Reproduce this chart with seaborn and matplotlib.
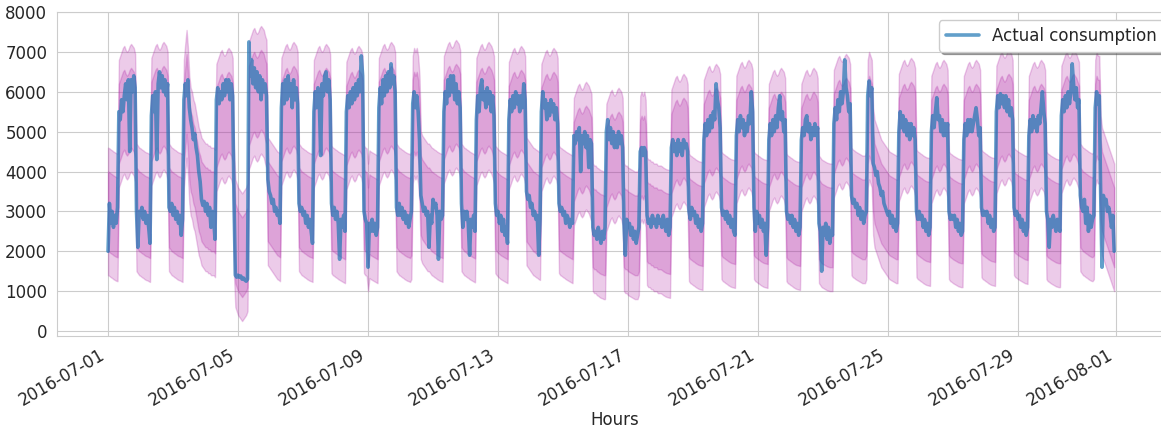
import matplotlib
matplotlib.use("Agg")
import matplotlib.pyplot as plt
import matplotlib.dates as mdates
import numpy as np
import pandas as pd
import seaborn as sns

# Hourly actual consumption, July 2016 (one row per day, hours 0-23)
actual = [
    2000, 3200, 2700, 3000, 2600, 2900, 2700, 3100, 5500, 5300, 5800, 5500, 5900, 6200, 5800, 6300, 4500, 6300, 6000, 6400, 6100, 3000, 2100, 3000,
    2900, 3100, 2800, 3000, 2700, 2900, 2600, 2200, 5400, 5900, 5500, 6000, 4300, 6200, 6500, 6100, 6400, 6000, 6300, 5900, 6200, 3100, 3000, 3200,
    2900, 3100, 2800, 3000, 2700, 2900, 2400, 2800, 5800, 6200, 5900, 6300, 5600, 5300, 5100, 4800, 4950, 4600, 4400, 4000, 3750, 3300, 3150, 3250,
    3000, 3200, 2900, 3100, 2600, 3000, 2800, 2300, 5800, 6100, 5700, 6000, 5800, 6200, 5900, 6300, 6000, 6300, 5800, 6200, 5900, 3300, 1400, 1350,
    1400, 1350, 1380, 1300, 1330, 1280, 1250, 1300, 7250, 6400, 6800, 6200, 6600, 6100, 6500, 6000, 6400, 5800, 6300, 6000, 6200, 5900, 3800, 3500,
    3400, 3200, 3300, 3000, 3100, 2900, 3000, 2700, 5600, 6200, 5700, 6300, 5800, 6400, 5900, 6200, 5600, 6300, 5800, 6100, 5700, 3200, 3000, 3100,
    2900, 3000, 2700, 2900, 2600, 2800, 2500, 2200, 5500, 6000, 5600, 6100, 5800, 4400, 6200, 5900, 6400, 6500, 6000, 6300, 5800, 3200, 2900, 3100,
    2800, 3000, 2700, 1800, 2800, 2600, 2900, 2500, 5500, 5900, 5600, 6000, 5700, 6100, 5800, 6200, 5900, 6300, 6000, 6900, 6400, 3000, 2800, 2700,
    1600, 2700, 2500, 2800, 2500, 2700, 2400, 2600, 5600, 6100, 5700, 6300, 5900, 6400, 6000, 6500, 6100, 6700, 6200, 6400, 6000, 3100, 2900, 3200,
    2900, 3100, 2800, 3000, 2700, 2900, 2600, 2800, 3000, 5700, 6000, 5600, 5900, 5500, 4800, 3400, 3200, 3000, 3100, 2900, 3000, 2100, 2900, 2700,
    3300, 3100, 3200, 2900, 1800, 3000, 2800, 2900, 5500, 6000, 5700, 6300, 5900, 6400, 6000, 6400, 5800, 6200, 5700, 6000, 5600, 3200, 2600, 3000,
    2800, 3000, 2700, 1900, 2800, 2600, 2900, 2500, 5300, 5900, 5500, 6100, 6300, 5800, 6000, 5600, 6100, 5700, 6000, 5500, 5900, 5400, 3200, 2900,
    3000, 2700, 2900, 2500, 2800, 2400, 2600, 2200, 5300, 5800, 5500, 5900, 5600, 6000, 5700, 5900, 5500, 5900, 5600, 6200, 5800, 3500, 3300, 3400,
    3100, 3200, 2900, 3000, 2800, 2900, 1900, 2800, 5500, 6000, 5600, 5800, 5300, 5700, 5400, 5800, 5500, 5700, 5300, 5600, 5200, 3200, 3000, 3100,
    2900, 3000, 2700, 2900, 2800, 2600, 2800, 2700, 4900, 4700, 5000, 4800, 5100, 4000, 4900, 4700, 5000, 4600, 4900, 4100, 4800, 4700, 2600, 2400,
    2500, 2300, 2600, 2400, 2200, 2500, 2300, 2600, 5000, 5300, 4800, 5100, 4700, 5000, 4600, 4900, 4600, 5000, 4700, 4900, 4600, 2700, 1900, 2800,
    2600, 2700, 2400, 2600, 2300, 2500, 2200, 2400, 2600, 4500, 4600, 4400, 4600, 4500, 2900, 2700, 2800, 2600, 2900, 2700, 2800, 2600, 2900, 2700,
    2800, 2600, 2900, 2700, 2500, 2800, 2400, 2600, 4600, 4800, 4500, 4700, 4400, 4800, 4500, 4700, 4400, 4800, 4600, 4700, 4500, 3000, 2800, 3100,
    2900, 3000, 2700, 2900, 2600, 2800, 2500, 2700, 4800, 5200, 4900, 5300, 5000, 5400, 5100, 5500, 5300, 6200, 5800, 5600, 5100, 3100, 2900, 3000,
    2800, 3000, 2700, 2900, 2600, 2800, 2500, 2400, 4900, 5300, 5000, 5400, 5100, 5300, 4900, 5200, 5000, 5400, 5200, 6000, 5500, 3100, 2500, 3000,
    2700, 2900, 2600, 2800, 2500, 2700, 1900, 2600, 4800, 5200, 4900, 5300, 5000, 5400, 5100, 5600, 5900, 5300, 5500, 5000, 5300, 3000, 2800, 2900,
    2700, 2900, 2600, 2800, 2500, 2700, 2400, 2600, 4800, 5100, 4900, 5300, 5400, 5000, 5200, 4800, 5100, 4900, 5200, 4900, 5100, 2700, 2500, 1500,
    2600, 2400, 2700, 2300, 2600, 2200, 2500, 2400, 5200, 5600, 5300, 5800, 5500, 6000, 5700, 6000, 6800, 6100, 5900, 5500, 5700, 3400, 3200, 3300,
    3100, 3200, 2900, 3100, 2800, 3000, 2700, 2900, 3000, 5900, 6270, 5900, 6100, 4200, 4100, 3900, 4000, 3700, 3600, 3400, 3500, 3200, 3100, 3000,
    2900, 3000, 2700, 2900, 2600, 2800, 2500, 2700, 5000, 5500, 5100, 5400, 5000, 5300, 4900, 5200, 4800, 5200, 4900, 5100, 4800, 3000, 2800, 3000,
    2800, 2900, 2600, 2800, 2500, 2700, 2400, 2600, 5000, 5400, 5100, 5500, 5850, 5300, 5400, 5000, 5300, 4900, 5200, 4900, 5200, 3000, 2800, 2900,
    2800, 2900, 2600, 2800, 2500, 2700, 2400, 2500, 4800, 5200, 4900, 5300, 5000, 5300, 5000, 5200, 5400, 5600, 5300, 4900, 5100, 3100, 2900, 3000,
    2900, 3000, 2700, 2900, 2600, 2800, 2500, 2600, 5500, 5900, 5600, 5950, 5700, 5900, 5600, 5900, 5500, 5800, 5400, 5600, 5300, 3100, 2900, 3000,
    2800, 2900, 2600, 2800, 2500, 2700, 2400, 2600, 4900, 5300, 5000, 5400, 5100, 5300, 5000, 5400, 5200, 5600, 6000, 5500, 5200, 3000, 2800, 2100,
    2800, 2600, 2900, 2700, 2500, 2800, 2600, 2500, 5400, 5800, 5500, 5900, 5600, 6000, 5700, 6000, 6700, 6200, 5800, 6100, 5600, 5800, 3400, 3100,
    3000, 3300, 2700, 3100, 2500, 2900, 2600, 2800, 2900, 5600, 6000, 5700, 5900, 3500, 1600, 3400, 3200, 3300, 3000, 3100, 2900, 2600, 2900, 2000,
]

# Hourly point forecast (centre of the prediction intervals)
forecast = [
    3000, 2980, 2950, 2930, 2900, 2880, 2860, 2850, 5200, 5300, 5400, 5500, 5550, 5450, 5400, 5450, 5550, 5600, 5550, 5500, 5350, 3100, 3050, 3000,
    2980, 2950, 2930, 2900, 2880, 2870, 2850, 2830, 5250, 5350, 5450, 5550, 5600, 5500, 5450, 5500, 5600, 5650, 5600, 5550, 5400, 3100, 3050, 3000,
    2980, 2950, 2930, 2900, 2880, 2870, 2850, 2830, 5200, 5600, 5950, 5500, 4800, 4500, 4400, 4200, 4100, 3900, 3700, 3500, 3400, 3250, 3200, 3150,
    3100, 3100, 3050, 3050, 3000, 3000, 3000, 2950, 5100, 5200, 5300, 5400, 5450, 5350, 5300, 5350, 5450, 5500, 5450, 5400, 5250, 3000, 2200, 2100,
    2000, 1950, 1900, 1850, 1900, 1950, 2000, 2100, 5650, 5750, 5850, 5950, 6000, 5900, 5850, 5900, 6000, 6050, 6000, 5950, 5800, 5700, 3250, 3200,
    3150, 3100, 3050, 3000, 2950, 2900, 2880, 2850, 5250, 5350, 5450, 5550, 5600, 5500, 5450, 5500, 5600, 5650, 5600, 5550, 5400, 3100, 3050, 3000,
    2980, 2950, 2930, 2900, 2880, 2860, 2850, 2830, 5200, 5300, 5400, 5500, 5550, 5450, 5400, 5450, 5550, 5600, 5550, 5500, 5350, 3050, 3000, 2980,
    2950, 2930, 2900, 2880, 2860, 2840, 2820, 2800, 5150, 5250, 5350, 5450, 5500, 5400, 5350, 5400, 5500, 5550, 5500, 5450, 5300, 3050, 3000, 2980,
    2600, 2930, 2900, 2880, 2860, 2840, 2820, 2800, 5250, 5350, 5450, 5550, 5600, 5500, 5450, 5500, 5600, 5650, 5600, 5550, 5400, 3100, 3050, 3000,
    2980, 2950, 2930, 2900, 2880, 2860, 2850, 2830, 2900, 5300, 5500, 5400, 5500, 5300, 4800, 3400, 3300, 3250, 3200, 3150, 3100, 3100, 3050, 3000,
    2980, 2950, 2930, 2900, 2880, 2860, 2850, 2830, 5300, 5400, 5500, 5600, 5650, 5550, 5500, 5550, 5650, 5700, 5650, 5600, 5450, 3100, 3050, 3000,
    2980, 2950, 2930, 2900, 2880, 2860, 2840, 2820, 5250, 5350, 5450, 5550, 5600, 5500, 5450, 5500, 5600, 5650, 5600, 5550, 5450, 5300, 3050, 3000,
    2960, 2930, 2900, 2880, 2860, 2840, 2820, 2800, 5150, 5250, 5350, 5450, 5500, 5400, 5350, 5400, 5500, 5550, 5500, 5450, 5300, 3250, 3200, 3150,
    3100, 3050, 3000, 2980, 2950, 2930, 2900, 2880, 5100, 5200, 5300, 5400, 5450, 5350, 5300, 5350, 5450, 5500, 5450, 5400, 5250, 3050, 3000, 2980,
    2950, 2930, 2900, 2880, 2860, 2840, 2820, 2800, 4250, 4350, 4450, 4550, 4600, 4500, 4450, 4500, 4600, 4650, 4600, 4550, 4450, 4350, 2600, 2550,
    2550, 2500, 2480, 2450, 2430, 2420, 2400, 2400, 4100, 4200, 4300, 4400, 4450, 4350, 4300, 4350, 4450, 4500, 4450, 4400, 4250, 2600, 2550, 2550,
    2500, 2480, 2460, 2440, 2420, 2400, 2400, 2400, 2500, 4300, 4400, 4300, 4400, 4200, 2750, 2700, 2700, 2650, 2650, 2600, 2600, 2600, 2550, 2550,
    2550, 2530, 2500, 2480, 2460, 2450, 2440, 2430, 4450, 4550, 4650, 4750, 4800, 4700, 4650, 4700, 4800, 4850, 4800, 4750, 4600, 2850, 2800, 2780,
    2750, 2730, 2700, 2680, 2660, 2650, 2640, 2630, 4700, 4800, 4900, 5000, 5050, 4950, 4900, 4950, 5050, 5100, 5050, 5000, 4850, 2900, 2850, 2830,
    2800, 2780, 2750, 2730, 2710, 2700, 2690, 2680, 4800, 4900, 5000, 5100, 5150, 5050, 5000, 5050, 5150, 5200, 5150, 5100, 4950, 2900, 2850, 2830,
    2800, 2780, 2750, 2730, 2710, 2700, 2690, 2680, 4600, 4700, 4800, 4900, 4950, 4850, 4800, 4850, 4950, 5000, 4950, 4900, 4750, 2850, 2800, 2780,
    2750, 2730, 2700, 2680, 2660, 2650, 2640, 2630, 4600, 4700, 4800, 4900, 4950, 4850, 4800, 4850, 4950, 5000, 4950, 4900, 4750, 2800, 2750, 2700,
    2680, 2660, 2640, 2620, 2610, 2600, 2600, 2600, 4950, 5050, 5150, 5250, 5300, 5200, 5150, 5200, 5300, 5350, 5300, 5250, 5100, 3000, 2950, 2930,
    2900, 2880, 2860, 2840, 2820, 2800, 2800, 2800, 2900, 5200, 5400, 5300, 5200, 4000, 3700, 3600, 3500, 3400, 3300, 3200, 3150, 3100, 3050, 3000,
    2950, 2900, 2880, 2860, 2840, 2820, 2800, 2800, 4850, 4950, 5050, 5150, 5200, 5100, 5050, 5100, 5200, 5250, 5200, 5150, 5000, 2950, 2900, 2880,
    2850, 2830, 2800, 2780, 2760, 2750, 2740, 2730, 4800, 4900, 5000, 5100, 5150, 5050, 5000, 5050, 5150, 5200, 5150, 5100, 4950, 2900, 2850, 2830,
    2800, 2780, 2760, 2740, 2720, 2710, 2700, 2700, 4800, 4900, 5000, 5100, 5150, 5050, 5000, 5050, 5150, 5200, 5150, 5100, 4950, 2950, 2900, 2880,
    2850, 2830, 2800, 2780, 2760, 2750, 2740, 2730, 5050, 5150, 5250, 5350, 5400, 5300, 5250, 5300, 5400, 5450, 5400, 5350, 5200, 3000, 2950, 2930,
    2900, 2880, 2860, 2840, 2820, 2800, 2790, 2780, 4800, 4900, 5000, 5100, 5150, 5050, 5000, 5050, 5150, 5200, 5150, 5100, 4950, 2900, 2850, 2830,
    2800, 2780, 2760, 2740, 2720, 2710, 2700, 2700, 5050, 5150, 5250, 5350, 5400, 5300, 5250, 5300, 5400, 5450, 5400, 5350, 5250, 5150, 3100, 3050,
    3000, 2980, 2950, 2930, 2900, 2880, 2860, 2850, 2900, 5200, 5400, 5300, 5300, 3800, 3500, 3400, 3300, 3200, 3100, 3000, 2900, 2800, 2700, 2600,
]

# Half-widths of the two prediction intervals
inner_halfwidth = 1000
outer_halfwidth = 1600

hours = pd.date_range("2016-07-01 00:00", periods=len(actual), freq="h")
df = pd.DataFrame({"Hours": hours, "actual": actual, "forecast": forecast})

sns.set_style("whitegrid")
plt.rcParams["font.family"] = ["DejaVu Sans"]

fig = plt.figure(figsize=(11.61, 4.33), dpi=100)
ax = fig.add_axes([57 / 1161, 1 - 336 / 433, (1172 - 57) / 1161, 324 / 433])

band_color = (0.68, 0.12, 0.64)
ax.fill_between(df["Hours"], df["forecast"] - outer_halfwidth, df["forecast"] + outer_halfwidth,
                color=band_color, alpha=0.23)
ax.fill_between(df["Hours"], df["forecast"] - inner_halfwidth, df["forecast"] + inner_halfwidth,
                color=band_color, alpha=0.23)

sns.lineplot(data=df, x="Hours", y="actual", ax=ax, color="#1f77b4", alpha=0.7,
             linewidth=2.6, label="Actual consumption")

ax.set_ylim(-125, 8000)
ax.set_xlim(pd.Timestamp("2016-07-01") - pd.Timedelta(hours=37.7),
            pd.Timestamp("2016-08-01") + pd.Timedelta(hours=41.7))
ax.set_yticks(np.arange(0, 8001, 1000))
ax.xaxis.set_major_locator(mdates.DayLocator(bymonthday=range(1, 32, 4)))
ax.xaxis.set_major_formatter(mdates.DateFormatter("%Y-%m-%d"))
ax.tick_params(axis="both", labelsize=12)
plt.setp(ax.get_xticklabels(), rotation=30, ha="right")
ax.set_xlabel("Hours", fontsize=12, labelpad=1)
ax.set_ylabel("")

ax.legend(loc="upper right", fontsize=12, shadow=True, frameon=True)

fig.savefig("out.png", dpi=100)
